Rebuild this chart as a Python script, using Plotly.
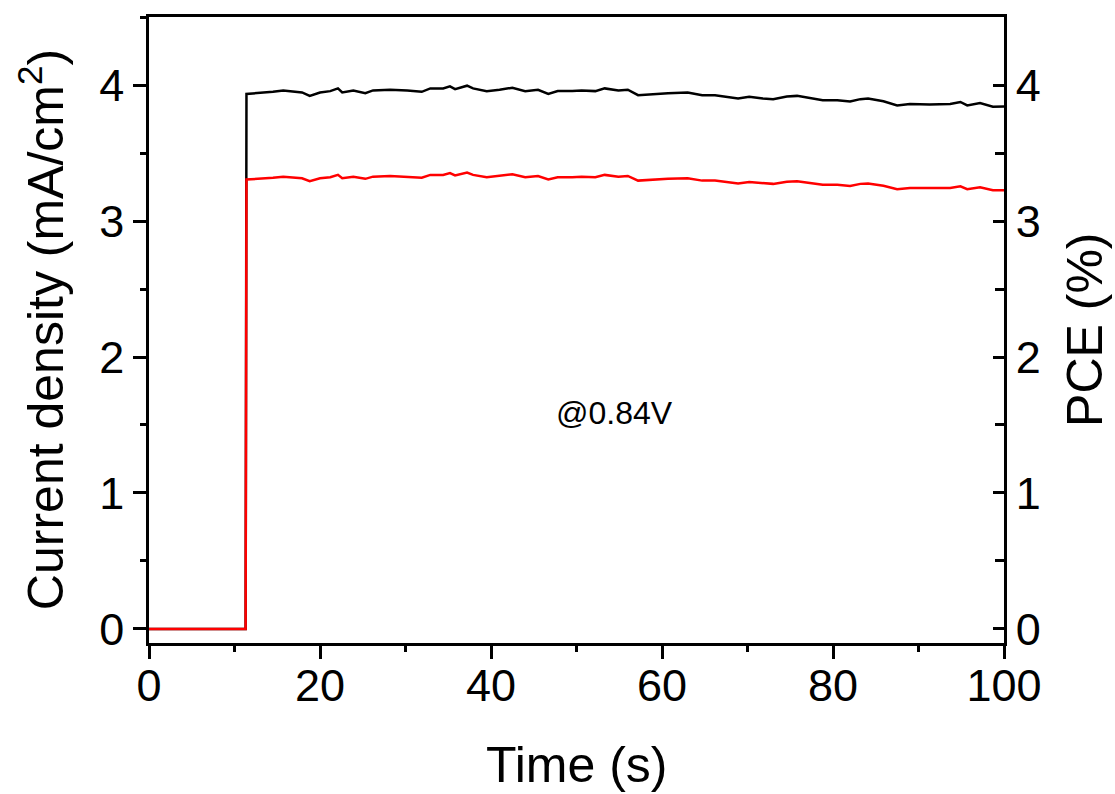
import plotly.graph_objects as go

# Time (s)
time_s = [0, 11.3, 11.4, 13.0, 14.5, 15.7, 16.8, 17.9, 18.8, 20.0,
          21.2, 22.1, 22.6, 23.9, 25.3, 26.2, 28.2, 30.2, 31.9, 32.9,
          34.4, 35.2, 35.8, 37.2, 37.9, 39.5, 41.0, 42.5, 44.0, 45.5,
          46.7, 47.8, 49.5, 50.6, 52.2, 53.3, 54.9, 56.0, 57.2, 58.8,
          60.7, 63.0, 64.7, 66.2, 67.4, 68.9, 70.2, 71.8, 73.0, 74.6,
          75.8, 77.3, 78.8, 80.5, 82.0, 83.2, 84.1, 85.9, 87.5, 89.0,
          91.3, 93.7, 94.9, 95.7, 97.2, 98.7, 100]

# Current density (mA/cm2), left axis
current_density = [0, 0, 3.934, 3.94, 3.95, 3.96, 3.955, 3.945, 3.92, 3.945,
                   3.955, 3.975, 3.945, 3.96, 3.94, 3.96, 3.965, 3.96, 3.95, 3.975,
                   3.975, 3.99, 3.97, 3.995, 3.975, 3.955, 3.965, 3.98, 3.955, 3.965,
                   3.934, 3.955, 3.955, 3.96, 3.955, 3.975, 3.96, 3.965, 3.925, 3.934,
                   3.94, 3.945, 3.925, 3.925, 3.913, 3.90, 3.913, 3.90, 3.896, 3.915,
                   3.92, 3.905, 3.888, 3.888, 3.878, 3.896, 3.90, 3.88, 3.85, 3.86,
                   3.857, 3.86, 3.875, 3.85, 3.867, 3.84, 3.842]

# PCE (%), right axis
pce = [0, 0, 3.305, 3.31, 3.318, 3.326, 3.322, 3.314, 3.293, 3.314,
       3.322, 3.339, 3.314, 3.326, 3.31, 3.326, 3.331, 3.326, 3.318, 3.339,
       3.339, 3.352, 3.335, 3.356, 3.339, 3.322, 3.331, 3.343, 3.322, 3.331,
       3.305, 3.322, 3.322, 3.326, 3.322, 3.339, 3.326, 3.331, 3.297, 3.305,
       3.31, 3.314, 3.297, 3.297, 3.287, 3.276, 3.287, 3.276, 3.273, 3.289,
       3.293, 3.28, 3.266, 3.266, 3.258, 3.273, 3.276, 3.259, 3.234, 3.242,
       3.24, 3.242, 3.255, 3.234, 3.248, 3.226, 3.227]

x_ticks = [0, 20, 40, 60, 80, 100]
y_ticks = [0, 1, 2, 3, 4]

FONT = "Arial, Liberation Sans, sans-serif"
TICKFONT = dict(family=FONT, size=45, color="black")
TITLEFONT = dict(family=FONT, size=50, color="black")

fig = go.Figure()
fig.add_trace(go.Scatter(x=time_s, y=current_density, mode="lines",
                         line=dict(color="black", width=2.5), yaxis="y", showlegend=False))
fig.add_trace(go.Scatter(x=time_s, y=pce, mode="lines",
                         line=dict(color="#ff0000", width=2.5), yaxis="y2", showlegend=False))

fig.update_layout(
    width=1115, height=794,
    margin=dict(l=149, r=111, t=17, b=151),
    paper_bgcolor="white", plot_bgcolor="white",
    font=dict(family=FONT, color="black"),
    xaxis=dict(range=[0, 100], tickvals=x_ticks, showgrid=False, zeroline=False,
               showline=True, linecolor="black", linewidth=2.5, mirror=True,
               ticks="outside", ticklen=13, tickwidth=2.5, tickcolor="black",
               tickfont=TICKFONT, ticklabelstandoff=-12,
               minor=dict(dtick=10, ticks="outside", ticklen=6, tickwidth=2.5, tickcolor="black")),
    yaxis=dict(range=[-0.103, 4.5], tickvals=y_ticks, showgrid=False, zeroline=False,
               showline=True, linecolor="black", linewidth=2.5,
               ticks="outside", ticklen=13, tickwidth=2.5, tickcolor="black",
               tickfont=TICKFONT, ticklabelstandoff=0,
               minor=dict(dtick=0.5, ticks="outside", ticklen=6, tickwidth=2.5, tickcolor="black")),
    yaxis2=dict(range=[-0.103, 4.5], tickvals=y_ticks, showgrid=False, zeroline=False,
                overlaying="y", side="right",
                showline=True, linecolor="black", linewidth=2.5,
                ticks="inside", ticklen=11, tickwidth=2.5, tickcolor="black",
                tickfont=TICKFONT, ticklabelstandoff=0,
                minor=dict(dtick=0.5, ticks="inside", ticklen=9, tickwidth=2.5, tickcolor="black")),
    annotations=[
        dict(text="Time (s)", xref="paper", yref="paper", x=0.5, y=-0.195,
             xanchor="center", yanchor="middle", showarrow=False, font=TITLEFONT),
        dict(text="Current density (mA/cm<sup>2</sup>)", xref="paper", yref="paper",
             x=-0.125, y=0.5, xanchor="center", yanchor="middle", textangle=-90,
             showarrow=False, font=TITLEFONT),
        dict(text="PCE (%)", xref="paper", yref="paper", x=1.0947, y=0.5,
             xanchor="center", yanchor="middle", textangle=-90, showarrow=False,
             font=TITLEFONT),
        dict(text="@0.84V", xref="x", yref="y", x=54.5, y=1.59,
             xanchor="center", yanchor="middle", showarrow=False,
             font=dict(family=FONT, size=32, color="black")),
    ],
)

fig.write_html("out.html", config={"displayModeBar": False},
               post_script="document.body.style.margin='0px';document.body.style.overflow='hidden';")
